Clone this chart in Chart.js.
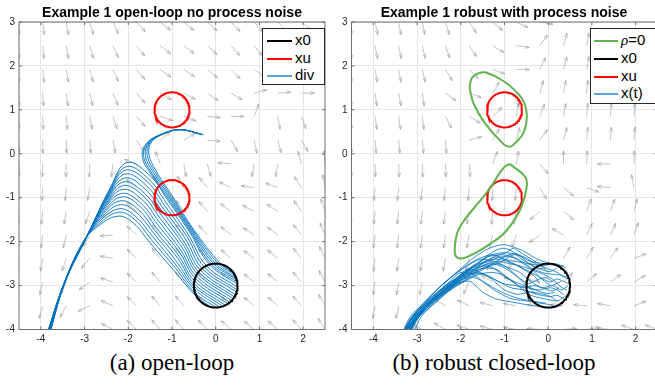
<!DOCTYPE html>
<html>
<head>
<meta charset="utf-8">
<script src="https://cdn.jsdelivr.net/npm/chart.js@4.4.1/dist/chart.umd.min.js"></script>
<style>
html, body { margin: 0; padding: 0; background: #fff; overflow: hidden; width: 655px; height: 386px; }
.plot { position: absolute; top: 0; }
.title { position: absolute; top: 4px; font: bold 14px "Liberation Sans", Arial, sans-serif; color: #000; white-space: nowrap; transform: translateX(-50%); }
.cap { position: absolute; top: 350px; line-height: 26px; font: 23px "Liberation Serif", "Times New Roman", serif; color: #000; white-space: nowrap; transform: translateX(-50%); }
.legend { position: absolute; background: #fff; border: 1px solid #262626; box-sizing: border-box; font: 15px "Liberation Sans", Arial, sans-serif; color: #000; }
.legend .ln { position: absolute; height: 0; }
.legend .tx { position: absolute; line-height: 16px; white-space: nowrap; }
</style>
</head>
<body>
<div class="plot" style="left:0;width:330px;height:350px"><canvas id="left" width="330" height="350"></canvas></div>
<div class="plot" style="left:330px;width:340px;height:350px"><canvas id="right" width="340" height="350"></canvas></div>
<div class="title" style="left:172px">Example 1 open-loop no process noise</div>
<div class="title" style="left:504px">Example 1 robust with process noise</div>
<div class="legend" id="legLeft" style="left:262px;top:28px;width:63px;height:57px"></div>
<div class="legend" id="legRight" style="left:590px;top:28px;width:68px;height:76px"></div>
<div class="cap" style="left:172px">(a) open-loop</div>
<div class="cap" style="left:494px">(b) robust closed-loop</div>
<script>
// axes and ticks
const xTicks = [-4, -3, -2, -1, 0, 1, 2];
const yTicks = [-4, -3, -2, -1, 0, 1, 2, 3];

// quiver grid (arrow tails) and arrow directions in degrees, read row by row from the top
const gridX = [-4.5, -3.96, -3.42, -2.88, -2.35, -1.81, -1.27, -0.73, -0.19, 0.35, 0.88, 1.42, 1.96, 2.5];
const gridY = [3, 2.46, 1.92, 1.38, 0.85, 0.31, -0.23, -0.77, -1.31, -1.85, -2.38, -2.92, -3.46, -4];
const leftAngles = [
  [-90, -82, -80, -75, -66, -48, -38, -40, -42, -46, -50, -48, -40, -10],
  [-90, -84, -80, -74, -66, -52, -38, -37, -42, -48, -50, -45, -35, 5],
  [-90, -84, -80, -75, -66, -50, -35, -34, -40, -45, -35, -20, -10, 20],
  [-90, -86, -82, -77, -68, -50, -30, -28, -35, -30, 15, 5, 0, 30],
  [-90, -87, -85, -80, -72, -50, -18, -20, -5, 0, 70, -80, -70, 80],
  [-90, -89, -88, -86, -80, -55, 40, 30, -5, -60, -78, -75, -60, 80],
  [-90, -91, -91, -93, -97, 160, 110, -80, -75, 175, -100, -100, 105, 95],
  [-92, -93, -95, -100, -122, 142, 120, 119, 129, 155, 172, 160, 122, 100],
  [-93, -95, -99, -109, -153, 139, 125, 124, 131, 144, 153, 147, 125, 108],
  [-94, -97, -103, -120, 184, 138, 127, 127, 132, 141, 147, 143, 128, 112],
  [-96, -99, -108, -131, 170, 137, 129, 129, 133, 139, 144, 141, 129, 115],
  [-97, -102, -113, -144, 162, 137, 130, 130, 133, 138, 142, 140, 130, 117],
  [-99, -105, -118, -155, 157, 136, 131, 130, 133, 138, 141, 139, 131, 119],
  [-100, -107, -124, -165, 153, 136, 131, 131, 134, 138, 140, 139, 131, 121]
];
const rightAngles = [
  [-90, -78, -80, -79, -73, -56, -40, -25, -10, 15, 20, 20, 20, 20],
  [-90, -79, -79, -77, -71, -56, -31, -8, 55, 75, 80, 80, 80, 80],
  [-90, -80, -80, -77, -59, -45, -20, 0, 65, 75, 80, 82, 85, 85],
  [-90, -82, -80, -82, -35, -20, 60, -80, 75, 80, 85, 85, 85, 85],
  [-90, -82, -82, -83, -63, -30, 45, 80, 70, 80, 85, 85, 85, 85],
  [-90, -85, -85, -85, -86, 15, 60, 75, 55, 75, 85, 85, 85, 85],
  [-90, -88, -88, -88, -88, -85, 70, 80, -50, 90, 88, 180, 88, 88],
  [-93, -95, -96, -97, -97, -95, -92, -95, -60, -40, -20, 175, 100, 95],
  [-95, -96, -97, -97, -98, -100, -95, -100, -140, -40, 70, 70, 75, 75],
  [-96, -97, -97, -98, -98, -100, -105, -110, -145, 150, 65, 65, 70, 70],
  [-97, -97, -98, -99, -100, -105, -115, -130, -150, 60, 60, 55, 20, 15],
  [-98, -98, -100, -102, -105, -115, 150, 160, 170, 45, 40, 35, 30, 30],
  [-98, -100, -102, -110, 150, 155, 165, 170, 175, 175, 175, 170, 20, 20],
  [-100, -105, -110, 150, 150, 160, 165, 170, 175, 5, 10, 175, 160, 160]
];

// sets: initial set x0 and unsafe sets xu (centre x, centre y, radius)
const x0Set = [0, -3, 0.5];
const xuSets = [[-1, 1, 0.4], [-1, -1, 0.4]];

// left: open-loop trajectories, flat x,y lists
const leftDown = [
  [-0.10,-3.49,-0.42,-3.27,-0.97,-2.64,-1.50,-2.03,-1.88,-1.58,-2.22,-1.42,-2.64,-1.61,-3.02,-1.99,-3.47,-2.95,-3.86,-4.1],
  [0.01,-3.50,-0.47,-3.17,-0.94,-2.58,-1.47,-1.96,-1.85,-1.50,-2.21,-1.33,-2.62,-1.55,-3.01,-1.98,-3.47,-2.95,-3.86,-4.1],
  [0.09,-3.49,-0.49,-3.08,-0.92,-2.52,-1.44,-1.89,-1.83,-1.43,-2.19,-1.25,-2.61,-1.49,-3.01,-1.98,-3.47,-2.95,-3.85,-4.1],
  [0.16,-3.47,-0.50,-3.01,-0.89,-2.46,-1.41,-1.82,-1.80,-1.35,-2.18,-1.16,-2.59,-1.43,-3.00,-1.97,-3.46,-2.94,-3.85,-4.1],
  [0.22,-3.45,-0.50,-2.95,-0.86,-2.39,-1.39,-1.75,-1.77,-1.27,-2.17,-1.07,-2.57,-1.36,-3.00,-1.96,-3.46,-2.94,-3.84,-4.1],
  [0.28,-3.42,-0.49,-2.89,-0.84,-2.33,-1.36,-1.68,-1.74,-1.19,-2.15,-0.98,-2.55,-1.30,-3.00,-1.96,-3.46,-2.94,-3.84,-4.1],
  [0.32,-3.38,-0.47,-2.83,-0.81,-2.27,-1.33,-1.61,-1.72,-1.12,-2.14,-0.90,-2.54,-1.24,-2.99,-1.95,-3.46,-2.94,-3.83,-4.1],
  [0.36,-3.34,-0.45,-2.78,-0.79,-2.21,-1.30,-1.54,-1.69,-1.04,-2.13,-0.81,-2.52,-1.18,-2.99,-1.95,-3.46,-2.94,-3.83,-4.1],
  [0.40,-3.30,-0.42,-2.73,-0.76,-2.15,-1.27,-1.47,-1.66,-0.96,-2.11,-0.72,-2.50,-1.12,-2.98,-1.94,-3.46,-2.94,-3.83,-4.1],
  [0.43,-3.26,-0.39,-2.69,-0.73,-2.09,-1.24,-1.40,-1.64,-0.89,-2.10,-0.64,-2.49,-1.06,-2.98,-1.93,-3.46,-2.94,-3.82,-4.1],
  [0.45,-3.21,-0.35,-2.65,-0.71,-2.03,-1.21,-1.33,-1.61,-0.81,-2.08,-0.55,-2.47,-1.00,-2.97,-1.93,-3.45,-2.93,-3.82,-4.1],
  [0.48,-3.15,-0.31,-2.61,-0.68,-1.96,-1.19,-1.26,-1.58,-0.73,-2.07,-0.46,-2.45,-0.93,-2.97,-1.92,-3.45,-2.93,-3.81,-4.1],
  [0.49,-3.10,-0.26,-2.58,-0.65,-1.90,-1.16,-1.19,-1.55,-0.65,-2.06,-0.37,-2.43,-0.87,-2.96,-1.91,-3.45,-2.93,-3.81,-4.1],
  [0.50,-3.04,-0.21,-2.55,-0.63,-1.84,-1.13,-1.12,-1.53,-0.58,-2.04,-0.29,-2.42,-0.81,-2.96,-1.91,-3.45,-2.93,-3.80,-4.1],
  [0.50,-2.97,-0.14,-2.52,-0.60,-1.78,-1.10,-1.05,-1.50,-0.50,-2.03,-0.20,-2.40,-0.75,-2.95,-1.90,-3.45,-2.93,-3.80,-4.1]
];
const leftUp = [
  [0.49,-2.92,-0.10,-2.51,-0.58,-1.77,-1.08,-1.03,-1.48,-0.46,-1.68,-0.08,-1.58,0.24,-1.25,0.44,-0.82,0.55,-0.28,0.43],
  [0.48,-2.87,-0.05,-2.50,-0.56,-1.76,-1.06,-1.01,-1.46,-0.44,-1.65,-0.06,-1.55,0.25,-1.23,0.45,-0.82,0.55,-0.30,0.44],
  [0.47,-2.83,0.00,-2.50,-0.54,-1.75,-1.04,-0.99,-1.43,-0.42,-1.61,-0.04,-1.52,0.26,-1.21,0.45,-0.82,0.55,-0.32,0.44],
  [0.45,-2.77,0.06,-2.50,-0.52,-1.74,-1.02,-0.97,-1.40,-0.40,-1.57,-0.02,-1.49,0.27,-1.19,0.46,-0.81,0.55,-0.34,0.45],
  [0.41,-2.71,0.13,-2.52,-0.50,-1.73,-1.00,-0.95,-1.37,-0.38,-1.53,0.00,-1.46,0.28,-1.17,0.46,-0.81,0.55,-0.36,0.45]
];

// right: rho = 0 level set pieces
const rhoUpper = [-1.8,1.5,-1.75,1.72,-1.6,1.83,-1.42,1.85,-1.0,1.64,-0.61,1.27,-0.49,0.89,-0.57,0.47,-0.76,0.24,-0.88,0.16,-1.02,0.22,-1.45,0.70,-1.71,1.15,-1.8,1.5];
const rhoLower = [-0.88,-0.23,-0.53,-0.52,-0.49,-0.74,-0.61,-1.2,-0.84,-1.6,-1.05,-1.85,-1.3,-2.03,-1.65,-2.25,-1.95,-2.38,-2.1,-2.35,-2.14,-2.2,-2.08,-1.8,-1.91,-1.5,-1.6,-1.12,-1.3,-0.74,-1.14,-0.48,-0.99,-0.29,-0.88,-0.23];

// right: closed-loop trajectories with process noise
const rightTraj = [
  [0.45,-2.95,0.3,-2.88,0.2,-2.85,0.05,-2.92,-0.1,-2.86,-0.3,-2.75,-0.6,-2.6,-0.9,-2.45,-1.2,-2.35,-1.5,-2.5,-1.9,-2.75,-2.3,-3.05,-2.7,-3.35,-3.0,-3.65,-3.25,-4.1],
  [0.35,-2.55,0.15,-2.53,0.05,-2.5,-0.25,-2.4,-0.55,-2.22,-0.8,-2.12,-1.0,-2.07,-1.2,-2.1,-1.45,-2.2,-1.75,-2.4,-2.1,-2.7,-2.5,-3.05,-2.85,-3.45,-3.15,-3.8,-3.3,-4.1],
  [0.3,-3.45,0.15,-3.5,0.0,-3.5,-0.4,-3.45,-0.8,-3.38,-1.2,-3.3,-1.5,-3.15,-1.8,-2.9,-2.2,-3.0,-2.6,-3.3,-2.95,-3.65,-3.2,-4.1],
  [0.45,-2.7,0.3,-2.62,0.2,-2.55,-0.1,-2.5,-0.4,-2.45,-0.7,-2.3,-1.0,-2.25,-1.3,-2.3,-1.6,-2.5,-2.0,-2.8,-2.4,-3.1,-2.8,-3.45,-3.1,-3.8,-3.35,-4.1],
  [0.1,-2.9,-0.05,-2.82,-0.2,-2.85,-0.45,-2.95,-0.7,-2.8,-1.0,-2.6,-1.3,-2.5,-1.6,-2.6,-1.95,-2.85,-2.3,-3.1,-2.75,-3.45,-3.05,-3.75,-3.3,-4.1],
  [0.35,-3.3,0.2,-3.22,0.05,-3.25,-0.25,-3.2,-0.55,-3.1,-0.85,-3.05,-1.15,-2.9,-1.45,-2.75,-1.8,-2.75,-2.2,-3.05,-2.6,-3.35,-2.95,-3.7,-3.15,-4.1],
  [0.2,-2.6,0.05,-2.68,-0.1,-2.65,-0.35,-2.55,-0.6,-2.4,-0.85,-2.2,-1.05,-2.15,-1.3,-2.25,-1.55,-2.45,-1.9,-2.7,-2.25,-2.95,-2.6,-3.25,-3.0,-3.6,-3.35,-4.1],
  [0.45,-3.2,0.3,-3.3,0.2,-3.35,-0.1,-3.3,-0.45,-3.2,-0.75,-2.95,-1.0,-2.8,-1.25,-2.6,-1.5,-2.55,-1.85,-2.7,-2.2,-2.95,-2.55,-3.25,-2.9,-3.6,-3.2,-4.1],
  [-0.2,-2.95,-0.3,-2.8,-0.45,-2.7,-0.7,-2.55,-0.95,-2.45,-1.2,-2.4,-1.45,-2.45,-1.75,-2.6,-2.1,-2.9,-2.45,-3.15,-2.8,-3.5,-3.1,-3.85,-3.25,-4.1],
  [0.25,-3.05,0.1,-3.12,0.0,-3.1,-0.3,-3.0,-0.6,-3.05,-0.9,-2.85,-1.15,-2.65,-1.4,-2.6,-1.65,-2.65,-2.0,-2.85,-2.35,-3.1,-2.7,-3.4,-3.0,-3.75,-3.2,-4.1],
  [0.4,-2.8,0.28,-2.76,0.15,-2.75,-0.15,-2.7,-0.5,-2.55,-0.8,-2.35,-1.1,-2.3,-1.35,-2.4,-1.6,-2.55,-1.9,-2.65,-2.15,-2.9,-2.5,-3.2,-2.85,-3.5,-3.1,-3.8,-3.3,-4.1],
  [-0.05,-3.4,-0.2,-3.38,-0.35,-3.35,-0.65,-3.3,-0.95,-3.2,-1.25,-3.05,-1.5,-2.9,-1.75,-2.8,-2.05,-2.9,-2.4,-3.2,-2.75,-3.5,-3.05,-3.8,-3.2,-4.1],
  [0.3,-2.9,0.18,-2.96,0.05,-3.0,-0.2,-2.8,-0.4,-2.6,-0.6,-2.45,-0.85,-2.35,-1.1,-2.35,-1.35,-2.45,-1.7,-2.55,-2.05,-2.8,-2.4,-3.05,-2.75,-3.4,-3.05,-3.7,-3.3,-4.1],
  [0.1,-3.45,-0.05,-3.42,-0.2,-3.4,-0.5,-3.35,-0.85,-3.3,-1.15,-3.15,-1.45,-2.95,-1.7,-2.75,-2.0,-2.7,-2.3,-2.95,-2.65,-3.25,-3.0,-3.6,-3.25,-4.1],
  [0.45,-3.0,0.3,-3.1,0.1,-3.0,-0.15,-3.05,-0.4,-2.9,-0.65,-2.7,-0.9,-2.6,-1.2,-2.5,-1.5,-2.6,-1.85,-2.8,-2.2,-3.0,-2.55,-3.3,-2.95,-3.65,-3.2,-4.1],
  [0.0,-2.7,-0.15,-2.55,-0.3,-2.45,-0.55,-2.3,-0.8,-2.15,-0.95,-2.25,-1.15,-2.3,-1.4,-2.35,-1.65,-2.5,-2.0,-2.75,-2.35,-3.0,-2.7,-3.3,-3.05,-3.65,-3.35,-4.1],
  [0.35,-3.2,0.2,-3.1,0.05,-3.05,-0.25,-3.1,-0.5,-3.0,-0.75,-2.75,-1.0,-2.55,-1.25,-2.45,-1.55,-2.4,-1.85,-2.55,-2.2,-2.8,-2.55,-3.1,-2.9,-3.45,-3.15,-3.75,-3.35,-4.1],
  [0.2,-3.35,0.05,-3.25,-0.1,-3.2,-0.4,-3.15,-0.7,-3.2,-1.0,-3.1,-1.3,-2.85,-1.55,-2.7,-1.8,-2.65,-2.1,-2.85,-2.45,-3.15,-2.8,-3.45,-3.05,-3.8,-3.15,-4.1],
  [0.45,-2.85,0.32,-2.78,0.2,-2.7,-0.05,-2.6,-0.3,-2.5,-0.55,-2.35,-0.8,-2.3,-1.05,-2.45,-1.3,-2.55,-1.6,-2.65,-1.95,-2.9,-2.3,-3.15,-2.65,-3.45,-3.0,-3.75,-3.25,-4.1],
  [-0.3,-3.2,-0.4,-3.08,-0.55,-3.0,-0.8,-2.9,-1.05,-2.75,-1.3,-2.7,-1.6,-2.75,-1.9,-2.9,-2.25,-3.1,-2.6,-3.4,-2.9,-3.7,-3.1,-4.1],
  [0.4,-2.6,0.3,-2.55,0.15,-2.5,-0.15,-2.55,-0.45,-2.5,-0.75,-2.45,-1.0,-2.4,-1.25,-2.3,-1.5,-2.35,-1.8,-2.5,-2.15,-2.75,-2.5,-3.05,-2.85,-3.4,-3.15,-3.7,-3.35,-4.1],
  [0.15,-3.15,0.0,-3.18,-0.15,-3.15,-0.45,-3.05,-0.75,-3.0,-1.05,-2.95,-1.35,-2.8,-1.65,-2.7,-1.95,-2.8,-2.3,-3.1,-2.6,-3.3,-2.95,-3.55,-3.2,-3.85,-3.3,-4.1],
  [0.42,-3.1,0.25,-3.0,0.1,-2.85,-0.1,-2.75,-0.35,-2.65,-0.65,-2.55,-0.9,-2.5,-1.15,-2.45,-1.4,-2.5,-1.7,-2.65,-2.05,-2.85,-2.45,-3.1,-2.8,-3.4,-3.1,-3.7,-3.28,-4.1],
  [-0.1,-2.6,-0.25,-2.62,-0.5,-2.45,-0.7,-2.28,-0.9,-2.3,-1.1,-2.4,-1.35,-2.55,-1.6,-2.7,-1.85,-2.85,-2.15,-3.0,-2.5,-3.25,-2.85,-3.5,-3.1,-3.85,-3.22,-4.1]
];

// legend entries
const leftLegend = [["x0", "#000000", 2], ["xu", "#ff0000", 2], ["div", "#5aa5dc", 2]];
const rightLegend = [["ρ=0", "#62b34f", 2], ["x0", "#000000", 2], ["xu", "#ff0000", 2], ["x(t)", "#5aa5dc", 2]];

const blue = "#0072BD";
const arrowLen = 13;

function toPts(a) {
    const p = [];
    for (let i = 0; i < a.length; i += 2) p.push({ x: a[i], y: a[i + 1] });
    return p;
}

function circlePts(c) {
    const p = [];
    for (let i = 0; i <= 120; i++) {
        const t = (i / 120) * 2 * Math.PI;
        p.push({ x: c[0] + c[2] * Math.cos(t), y: c[1] + c[2] * Math.sin(t) });
    }
    return p;
}

function lineDs(pts, color, width, tension, order) {
    return { data: pts, showLine: true, borderColor: color, borderWidth: width, pointRadius: 0, tension: tension, fill: false, order: order };
}

function quiver(angles) {
    return {
        id: "quiver",
        beforeDatasetsDraw(chart) {
            const { ctx, chartArea: a, scales: { x, y } } = chart;
            ctx.save();
            ctx.beginPath();
            ctx.rect(a.left, a.top, a.width, a.height);
            ctx.clip();
            ctx.strokeStyle = "rgba(140,140,140,0.85)";
            ctx.lineWidth = 0.6;
            ctx.beginPath();
            gridY.forEach((gy, j) => gridX.forEach((gx, k) => {
                const px = x.getPixelForValue(gx), py = y.getPixelForValue(gy);
                const t = angles[j][k] * Math.PI / 180;
                const ux = Math.cos(t), uy = -Math.sin(t);
                const hx = px + ux * arrowLen, hy = py + uy * arrowLen;
                ctx.moveTo(px, py);
                ctx.lineTo(hx, hy);
                const bx = hx - ux * arrowLen * 0.33, by = hy - uy * arrowLen * 0.33, w = arrowLen * 0.12;
                ctx.moveTo(bx - uy * w, by + ux * w);
                ctx.lineTo(hx, hy);
                ctx.lineTo(bx + uy * w, by - ux * w);
            }));
            ctx.stroke();
            ctx.restore();
        }
    };
}

// axes box with inward ticks, drawn on top
const boxPlugin = {
    id: "box",
    afterDatasetsDraw(chart) {
        const { ctx, chartArea: a, scales: { x, y } } = chart;
        ctx.save();
        ctx.strokeStyle = "#6e6e6e";
        ctx.lineWidth = 1;
        ctx.strokeRect(a.left, a.top, a.width, a.height);
        ctx.beginPath();
        xTicks.forEach(v => {
            const p = x.getPixelForValue(v);
            ctx.moveTo(p, a.bottom); ctx.lineTo(p, a.bottom - 3);
            ctx.moveTo(p, a.top); ctx.lineTo(p, a.top + 3);
        });
        yTicks.forEach(v => {
            const p = y.getPixelForValue(v);
            ctx.moveTo(a.left, p); ctx.lineTo(a.left + 3, p);
            ctx.moveTo(a.right, p); ctx.lineTo(a.right - 3, p);
        });
        ctx.stroke();
        ctx.restore();
    }
};

function makeChart(id, datasets, angles, yWidth, padRight) {
    const tickFont = { family: "'Liberation Sans', Arial, sans-serif", size: 10 };
    return new Chart(document.getElementById(id), {
        type: "scatter",
        data: { datasets: datasets },
        options: {
            responsive: false,
            animation: false,
            devicePixelRatio: 1,
            layout: { padding: { left: 0, top: 22, right: padRight, bottom: 0 } },
            plugins: { legend: { display: false }, tooltip: { enabled: false } },
            scales: {
                x: {
                    type: "linear", min: -4.5, max: 2.5,
                    afterBuildTicks: s => { s.ticks = xTicks.map(v => ({ value: v })); },
                    afterFit: s => { s.height = 20.5; },
                    grid: { color: "#e6e6e6", drawTicks: false },
                    border: { display: false },
                    ticks: { font: tickFont, color: "#262626", padding: 4, maxRotation: 0, autoSkip: false }
                },
                y: {
                    type: "linear", min: -4, max: 3,
                    afterBuildTicks: s => { s.ticks = yTicks.map(v => ({ value: v })); },
                    afterFit: s => { s.width = yWidth; },
                    grid: { color: "#e6e6e6", drawTicks: false },
                    border: { display: false },
                    ticks: { font: tickFont, color: "#262626", padding: 4, autoSkip: false }
                }
            }
        },
        plugins: [quiver(angles), boxPlugin]
    });
}

// left subplot
const leftSets = [];
xuSets.forEach(c => leftSets.push(lineDs(circlePts(c), "#ff0000", 2, 0, 0)));
leftSets.push(lineDs(circlePts(x0Set), "#000000", 2, 0, 0));
leftDown.concat(leftUp).forEach(a => leftSets.push(lineDs(toPts(a), blue, 0.9, 0.4, 2)));
makeChart("left", leftSets, leftAngles, 19, 5);

// right subplot
const rightSets = [];
rightSets.push(lineDs(toPts(rhoUpper), "#62b34f", 2, 0.4, 0));
rightSets.push(lineDs(toPts(rhoLower), "#62b34f", 2, 0.4, 0));
xuSets.forEach(c => rightSets.push(lineDs(circlePts(c), "#ff0000", 2, 0, 0)));
rightSets.push(lineDs(circlePts(x0Set), "#000000", 2, 0, 0));
rightTraj.forEach(a => rightSets.push(lineDs(toPts(a), blue, 0.8, 0.25, 2)));
makeChart("right", rightSets, rightAngles, 21.5, 12.5);

// legends as html text
function buildLegend(id, entries, rows, lineLeft, lineW, textLeft) {
    const box = document.getElementById(id);
    entries.forEach((e, i) => {
        const ln = document.createElement("div");
        ln.className = "ln";
        ln.style.left = lineLeft + "px";
        ln.style.width = lineW + "px";
        ln.style.top = (rows[i] - e[2] / 2) + "px";
        ln.style.borderTop = e[2] + "px solid " + e[1];
        box.appendChild(ln);
        const tx = document.createElement("div");
        tx.className = "tx";
        tx.style.left = textLeft + "px";
        tx.style.top = (rows[i] - 9) + "px";
        if (e[0].startsWith("ρ")) {
            tx.innerHTML = '<i style="font-family:\'Liberation Serif\',serif">ρ</i>' + e[0].slice(1);
        } else {
            tx.textContent = e[0];
        }
        box.appendChild(tx);
    });
}
buildLegend("legLeft", leftLegend, [12, 30, 47], 4, 25, 32);
buildLegend("legRight", rightLegend, [12, 30, 48, 65], 3, 24, 30);
</script>
</body>
</html>
